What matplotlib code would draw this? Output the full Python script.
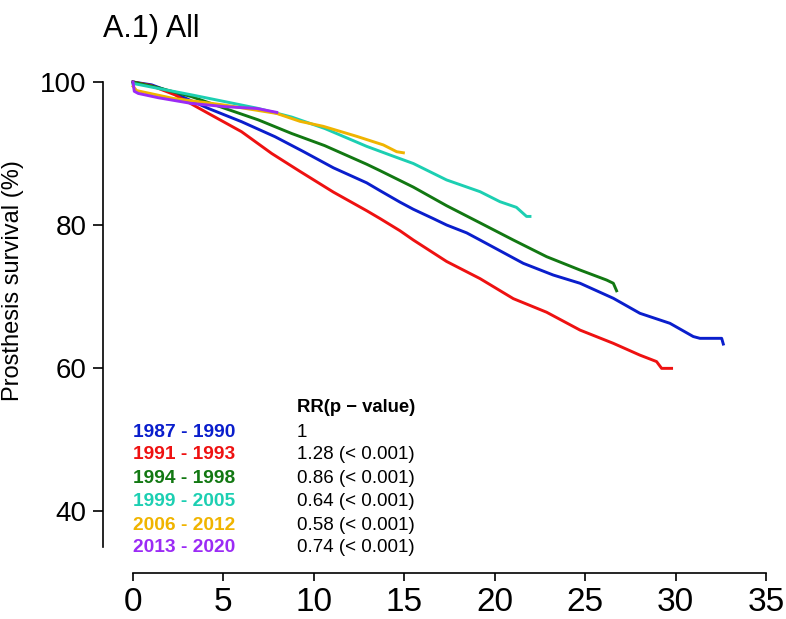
#!/usr/bin/env python3
import matplotlib
matplotlib.use('Agg')
import matplotlib.pyplot as plt

plt.rcParams['font.family'] = ['Liberation Sans', 'DejaVu Sans']

# survival curves (years, %)
x_8790 = [0, 1.03, 2.32, 4.17, 6.0, 7.85, 9.4, 11.08, 12.92, 13.66, 14.76, 15.5,
          16.6, 17.34, 18.45, 19.19, 21.58, 23.24, 24.72, 26.56, 28.03, 29.69,
          30.98, 31.35, 32.55, 32.64]
y_8790 = [100, 99.6, 98.4, 96.3, 94.45, 92.35, 90.3, 88.0, 85.9, 84.8, 83.2, 82.2,
          80.9, 80.0, 78.9, 77.9, 74.64, 73.0, 71.85, 69.75, 67.65, 66.25,
          64.4, 64.15, 64.15, 63.35]

x_9193 = [0, 1.0, 2.32, 4.17, 6.0, 7.67, 9.23, 11.08, 12.92, 13.66, 14.76, 15.5,
          17.34, 19.19, 21.03, 22.87, 24.72, 26.56, 28.03, 28.95, 29.23, 29.78]
y_9193 = [100, 99.5, 98.2, 95.6, 93.05, 90.0, 87.5, 84.6, 82.0, 80.9, 79.2, 77.9,
          74.9, 72.5, 69.7, 67.8, 65.3, 63.45, 61.8, 60.9, 59.95, 59.95]

x_9498 = [0, 1.4, 3.24, 5.09, 6.93, 8.77, 10.6, 12.92, 13.66, 15.5, 17.34, 19.19,
          21.03, 22.87, 24.72, 26.19, 26.56, 26.74]
y_9498 = [100, 99.2, 97.95, 96.3, 94.7, 92.8, 91.1, 88.5, 87.6, 85.3, 82.7, 80.3,
          77.9, 75.57, 73.7, 72.3, 71.85, 70.8]

x_9905 = [0, 1.4, 3.24, 5.09, 6.93, 8.77, 10.6, 12.92, 14.2, 15.5, 17.34, 19.19,
          20.29, 21.2, 21.76, 21.95]
y_9905 = [99.8, 99.1, 98.2, 97.25, 96.3, 95.1, 93.5, 91.0, 89.8, 88.6, 86.3, 84.66,
          83.26, 82.47, 81.2, 81.2]

x_0612 = [0, 0.2, 2.23, 4.99, 7.95, 9.23, 10.52, 12.37, 13.84, 14.58, 14.95]
y_0612 = [99.4, 98.8, 97.7, 96.8, 95.6, 94.5, 93.8, 92.4, 91.2, 90.25, 90.1]

x_1320 = [0, 0.07, 0.29, 1.4, 3.24, 5.09, 6.84, 7.95]
y_1320 = [100, 98.7, 98.4, 97.8, 97.0, 96.55, 96.3, 95.75]

periods = ['1987 - 1990', '1991 - 1993', '1994 - 1998', '1999 - 2005',
           '2006 - 2012', '2013 - 2020']
rr_text = ['1', '1.28 (< 0.001)', '0.86 (< 0.001)', '0.64 (< 0.001)',
           '0.58 (< 0.001)', '0.74 (< 0.001)']
colors = ['#0A1ECC', '#EE1111', '#127812', '#1CCFB2', '#F0B400', '#9B2BF5']

xs = [x_8790, x_9193, x_9498, x_9905, x_0612, x_1320]
ys = [y_8790, y_9193, y_9498, y_9905, y_0612, y_1320]


def px(x):
    return x / 786


def py(y):
    return 1 - y / 619


def main():
    fig = plt.figure(figsize=(7.86, 6.19), dpi=100)
    ax = fig.add_axes([px(103), py(573), px(771.4 - 103), (573 - 74.85) / 619])

    for x, y, c in zip(xs, ys, colors):
        ax.plot(x, y, color=c, lw=2.1, solid_joinstyle='round')

    ax.set_xlim(-1.66, 35.3)
    ax.set_ylim(31.33, 101)
    ax.set_xticks(range(0, 36, 5))
    ax.set_yticks([40, 60, 80, 100])

    for s in ['top', 'right']:
        ax.spines[s].set_visible(False)
    ax.spines['left'].set_bounds(35, 100)
    ax.spines['bottom'].set_bounds(0, 35)
    for s in ['left', 'bottom']:
        ax.spines[s].set_linewidth(1.2)

    ax.tick_params(axis='y', length=7, width=1.2, labelsize=20, pad=5)
    ax.tick_params(axis='x', length=6, width=1.2, labelsize=24, pad=4)

    fig.text(px(103), py(37), 'A.1) All', fontsize=22, va='baseline', ha='left')
    fig.text(px(13), py(281), 'Prosthesis survival (%)', fontsize=17,
             rotation=90, ha='center', va='center')

    # legend table
    rows = [432.7, 454.3, 478.3, 501.7, 525, 547.7]
    fig.text(px(297), py(408), 'RR(p \u2212 value)', fontsize=13.3,
             fontweight='bold', va='center', ha='left')
    for r, lab, rr, c in zip(rows, periods, rr_text, colors):
        fig.text(px(133), py(r), lab, fontsize=13.8, fontweight='bold',
                 color=c, va='center', ha='left')
        fig.text(px(297), py(r), rr, fontsize=13.5, color='black',
                 va='center', ha='left')

    fig.savefig('out.png', dpi=100)


if __name__ == '__main__':
    main()
